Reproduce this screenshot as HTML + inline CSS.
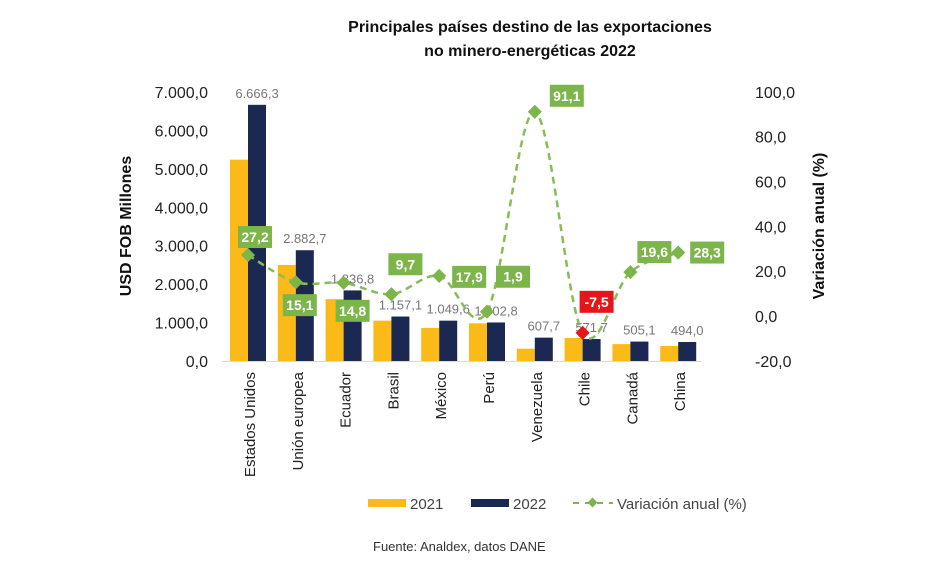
<!DOCTYPE html>
<html><head><meta charset="utf-8">
<style>
body{margin:0;background:#fff;font-family:"Liberation Sans",sans-serif;}
svg{display:block}
</style></head>
<body>
<svg id="chart" width="945" height="561" viewBox="0 0 945 561">
<text x="530" y="32" text-anchor="middle" font-size="16" font-weight="bold" fill="#111">Principales países destino de las exportaciones</text>
<text x="530" y="56" text-anchor="middle" font-size="16" font-weight="bold" fill="#111">no minero-energéticas 2022</text>
<text transform="translate(131,226) rotate(-90)" text-anchor="middle" font-size="16" font-weight="bold" fill="#111">USD FOB Millones</text>
<text transform="translate(824,226) rotate(-90)" text-anchor="middle" font-size="16" font-weight="bold" fill="#111">Variación anual (%)</text>
<g id="plot"></g>
<g>
<rect x="368" y="499" width="38" height="8" fill="#fbba18"/>
<text x="410" y="509" font-size="15" fill="#444">2021</text>
<rect x="471" y="499" width="38" height="8" fill="#1b2851"/>
<text x="513" y="509" font-size="15" fill="#444">2022</text>
<line x1="573" y1="503" x2="613" y2="503" stroke="#7cb64a" stroke-width="2" stroke-dasharray="6,6"/>
<rect x="589" y="499" width="7" height="7" transform="rotate(45 592.5 502.5)" fill="#7cb64a"/>
<text x="617" y="509" font-size="15" fill="#444">Variación anual (%)</text>
</g>
<text x="373" y="551" font-size="13" fill="#333">Fuente: Analdex, datos DANE</text>
</svg>
<script>
const categories=["Estados Unidos","Unión europea","Ecuador","Brasil","México","Perú","Venezuela","Chile","Canadá","China"];
const values2021=[5240,2500,1610,1050,860,980,320,600,440,390];
const values2022=[6666.3,2882.7,1836.8,1157.1,1049.6,1002.8,607.7,571.7,505.1,494.0];
const labels2022=["6.666,3","2.882,7","1.836,8","1.157,1","1.049,6","1.002,8","607,7","571,7","505,1","494,0"];
const variation=[27.2,15.1,14.8,9.7,17.9,1.9,91.1,-7.5,19.6,28.3];
const variationLabels=["27,2","15,1","14,8","9,7","17,9","1,9","91,1","-7,5","19,6","28,3"];
const leftTicks=[0,1000,2000,3000,4000,5000,6000,7000];
const leftTickLabels=["0,0","1.000,0","2.000,0","3.000,0","4.000,0","5.000,0","6.000,0","7.000,0"];
const rightTicks=[-20,0,20,40,60,80,100];
const rightTickLabels=["-20,0","0,0","20,0","40,0","60,0","80,0","100,0"];

const NS="http://www.w3.org/2000/svg";
const g=document.getElementById('plot');
function mk(t,a){const e=document.createElementNS(NS,t);for(const k in a)e.setAttribute(k,a[k]);g.appendChild(e);return e;}
const xB=i=>248+47.8*i;
const yL=v=>361-v*(269/7000);
const yR=v=>316-v*(269/120);
// label box offsets relative to each point (layout, not data)
const boxDx=[7,4,9,14,30,26,32,14,24,29];
const boxDy=[-18,23,28,-30,1,-35,-16,-31,-20,0];

leftTicks.forEach((t,i)=>{const e=mk('text',{x:208,y:yL(t)+6,'text-anchor':'end','font-size':16,fill:'#222'});e.textContent=leftTickLabels[i];

});
rightTicks.forEach((t,i)=>{const e=mk('text',{x:755,y:yR(t)+6,'font-size':16,fill:'#222'});e.textContent=rightTickLabels[i];

});
const ax=mk('line',{x1:222,y1:361.5,x2:702,y2:361.5,stroke:'#d9d9d9','stroke-width':1});



categories.forEach((c,i)=>{
 const b=xB(i);
 const r1=mk('rect',{x:b-18,y:yL(values2021[i]),width:18,height:361-yL(values2021[i]),fill:'#fbba18'});
 
 
 const r2=mk('rect',{x:b,y:yL(values2022[i]),width:18,height:361-yL(values2022[i]),fill:'#1b2851'});
 
 
 const t=mk('text',{x:b+9,y:yL(values2022[i])-7,'text-anchor':'middle','font-size':13,fill:'#777'});t.textContent=labels2022[i];
 
 
 const ct=mk('text',{transform:`translate(${b+7},372) rotate(-90)`,'text-anchor':'end','font-size':15,fill:'#222'});ct.textContent=c;
 
 
});
const pts=variation.map((v,i)=>[xB(i),yR(v)]);
let d=`M${pts[0][0]},${pts[0][1]}`;
for(let i=0;i<pts.length-1;i++){
 const p0=pts[Math.max(0,i-1)],p1=pts[i],p2=pts[i+1],p3=pts[Math.min(pts.length-1,i+2)];
 const k=1/6;
 d+=` C${p1[0]+(p2[0]-p0[0])*k},${p1[1]+(p2[1]-p0[1])*k} ${p2[0]-(p3[0]-p1[0])*k},${p2[1]-(p3[1]-p1[1])*k} ${p2[0]},${p2[1]}`;
}
const ln=mk('path',{d:d,fill:'none',stroke:'#86bd55','stroke-width':2.5,'stroke-dasharray':'7,5'});


pts.forEach((p,i)=>{
 const col=variation[i]<0?'#e3161b':'#7cb64a';
 const m=mk('rect',{x:p[0]-5,y:p[1]-5,width:10,height:10,transform:`rotate(45 ${p[0]} ${p[1]})`,fill:col});
 
 
 const cx=p[0]+boxDx[i], cy=p[1]+boxDy[i];
 const bx=mk('rect',{x:cx-17,y:cy-11,width:34,height:22,fill:col});
 
 
 const t=mk('text',{x:cx,y:cy+5,'text-anchor':'middle','font-size':14,'font-weight':'bold',fill:'#fff'});t.textContent=variationLabels[i];
 
 
});
</script>
</body></html>
